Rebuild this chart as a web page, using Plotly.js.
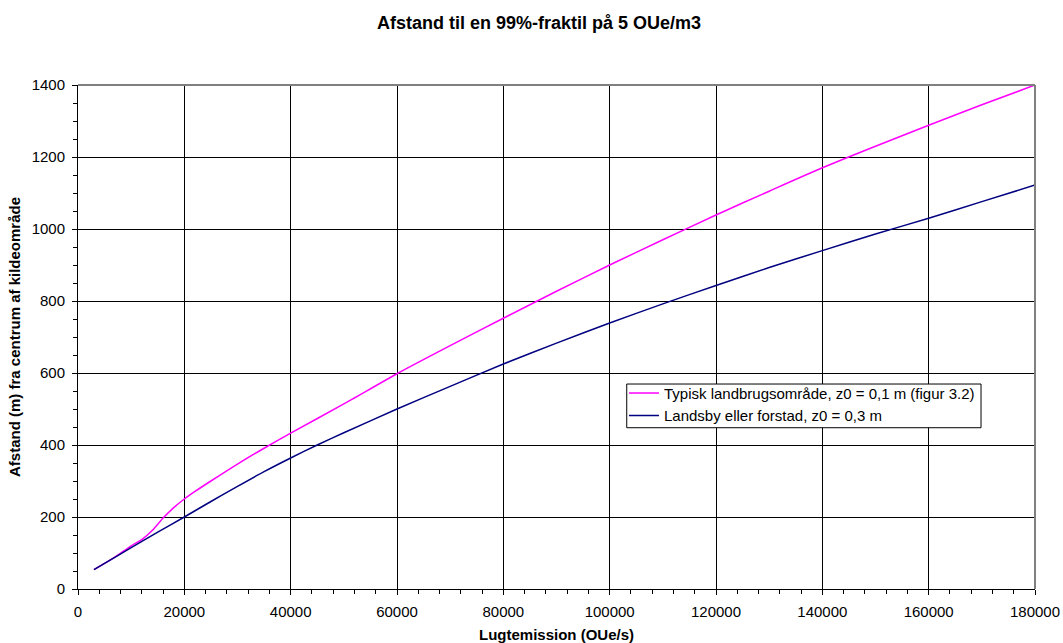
<!DOCTYPE html>
<html>
<head>
<meta charset="utf-8">
<script src="https://cdn.plot.ly/plotly-3.0.1.min.js"></script>
<style>html,body{margin:0;padding:0;background:#fff}#chart{width:1063px;height:643px}</style>
</head>
<body>
<div id="chart"></div>
<script>
const chartTitle = "Afstand til en 99%-fraktil på 5 OUe/m3";
const xTitle = "Lugtemission (OUe/s)";
const yTitle = "Afstand (m) fra centrum af kildeområde";

const seriesNames = [
  "Typisk landbrugsområde, z0 = 0,1 m (figur 3.2)",
  "Landsby eller forstad, z0 = 0,3 m"
];

const emissionA = [3000, 5000, 7000, 10000, 12000, 14000, 16000, 18000, 20000, 22000, 25000, 30000, 35000, 40000, 50000, 60000, 70000, 80000, 90000, 100000, 110000, 120000, 130000, 140000, 150000, 160000, 170000, 180000];
const distanceA = [54, 71, 89, 120, 137, 163, 197, 226, 250, 271, 300, 347, 391, 433, 514, 598, 676, 752, 827, 900, 970, 1039, 1105, 1170, 1230, 1288, 1345, 1400];

const emissionB = [3000, 5000, 10000, 15000, 20000, 25000, 30000, 35000, 40000, 45000, 50000, 60000, 70000, 80000, 90000, 100000, 110000, 120000, 130000, 140000, 150000, 160000, 170000, 180000];
const distanceB = [54, 71, 115, 158, 200, 243, 285, 326, 364, 400, 434, 500, 563, 625, 683, 739, 792, 843, 893, 940, 986, 1030, 1076, 1122];

const colors = ["#FF00FF", "#000080"];
const font = "Arial, 'Liberation Sans', sans-serif";

const traces = [
  {x: emissionA, y: distanceA, name: seriesNames[0], mode: "lines", line: {color: colors[0], width: 1.5, shape: "spline", smoothing: 0.6}},
  {x: emissionB, y: distanceB, name: seriesNames[1], mode: "lines", line: {color: colors[1], width: 1.5, shape: "spline", smoothing: 0.6}}
];

const layout = {
  width: 1063, height: 643,
  margin: {l: 78, r: 28, t: 85, b: 54},
  paper_bgcolor: "#fff", plot_bgcolor: "#fff",
  font: {family: font, size: 15, color: "#000"},
  title: {text: "<b>" + chartTitle + "</b>", font: {family: font, size: 18, color: "#000"}, x: 0.507, xanchor: "center", y: 0.964, yanchor: "middle"},
  showlegend: true,
  legend: {x: 0.5705, y: 0.421, xanchor: "left", yanchor: "top", bgcolor: "rgba(0,0,0,0)", borderwidth: 0, font: {family: font, size: 15, color: "#000"}, tracegroupgap: 0, itemwidth: 30},
  xaxis: {
    range: [0, 180000], dtick: 20000, tick0: 0, autorange: false, automargin: false,
    showgrid: true, gridcolor: "#000", gridwidth: 1,
    showline: true, linecolor: "#000", linewidth: 1,
    ticks: "outside", ticklen: 5, tickcolor: "#000", ticklabelstandoff: 4,
    minor: {dtick: 4000, ticks: "outside", ticklen: 4, tickcolor: "#000", showgrid: false},
    zeroline: false, tickformat: "d",
    tickfont: {family: font, size: 15, color: "#000"},
    title: {text: "<b>" + xTitle + "</b>", font: {family: font, size: 15, color: "#000"}, standoff: 10}
  },
  yaxis: {
    range: [0, 1400], dtick: 200, tick0: 0, autorange: false, automargin: false,
    showgrid: true, gridcolor: "#000", gridwidth: 1,
    showline: true, linecolor: "#000", linewidth: 1,
    ticks: "outside", ticklen: 5, tickcolor: "#000", ticklabelstandoff: 4,
    minor: {dtick: 50, ticks: "outside", ticklen: 4, tickcolor: "#000", showgrid: false},
    zeroline: false,
    tickfont: {family: font, size: 15, color: "#000"},
    title: {text: "<b>" + yTitle + "</b>", font: {family: font, size: 15, color: "#000"}, standoff: 7}
  },
  shapes: [
    {type: "line", xref: "paper", yref: "paper", x0: 0, x1: 1, y0: 1, y1: 1, line: {color: "#808080", width: 2}},
    {type: "line", xref: "paper", yref: "paper", x0: 1, x1: 1, y0: 0, y1: 1, line: {color: "#808080", width: 2}},
    {type: "rect", xref: "paper", yref: "paper", x0: 0.5734, x1: 0.9436, y0: 0.32, y1: 0.4067, fillcolor: "#fff", line: {color: "#000", width: 1}, layer: "above"}
  ]
};

Plotly.newPlot("chart", traces, layout, {displayModeBar: false, staticPlot: true});
</script>
</body>
</html>
